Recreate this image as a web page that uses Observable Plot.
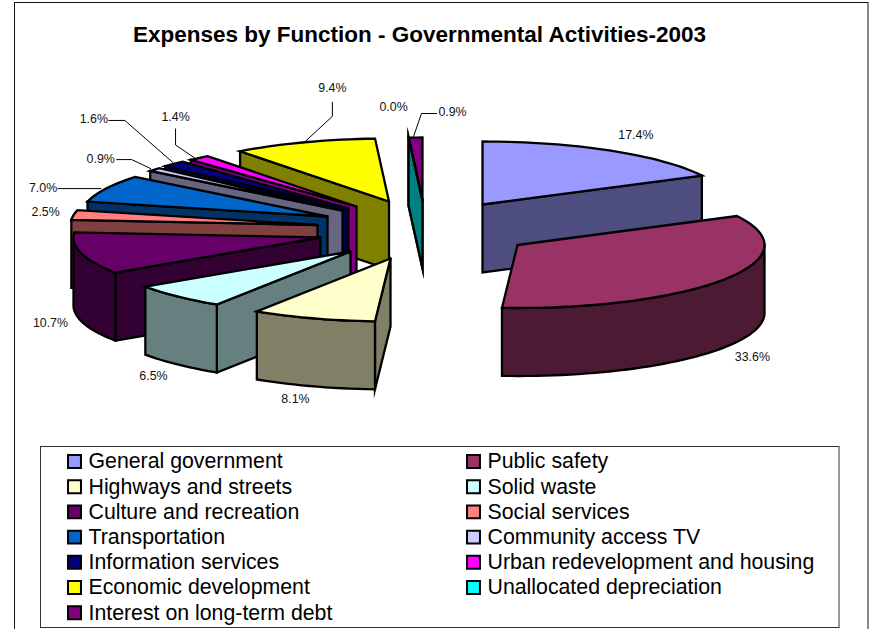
<!DOCTYPE html>
<html>
<head>
<meta charset="utf-8">
<style>html,body{margin:0;padding:0;background:#fff}svg{display:block}</style>
<script src="https://cdn.jsdelivr.net/npm/d3@7"></script>
<script src="https://cdn.jsdelivr.net/npm/@observablehq/plot@0.6"></script>
</head>
<body>
<div id="chart"></div>
<script>
// ---- data
const title = "Expenses by Function - Governmental Activities-2003";
const categories = ["General government","Public safety","Highways and streets","Solid waste","Culture and recreation","Social services","Transportation","Community access TV","Information services","Urban redevelopment and housing","Economic development","Unallocated depreciation","Interest on long-term debt"];
const shares = [17.4,33.6,8.1,6.5,10.7,2.5,7.0,0.9,1.6,1.4,9.4,0.0,0.9];

// ---- styles
const topColors  = ["#9999FF","#993366","#FFFFCC","#CCFFFF","#660066","#FF8080","#0066CC","#CCCCFF","#000080","#FF00FF","#FFFF00","#00FFFF","#800080"];
const wallColors = ["#4D4D80","#4D1A33","#808066","#668080","#330033","#804040","#003366","#666680","#000040","#800080","#808000","#008080","#400040"];

// ---- 3D pie layout: semi-axes, extrusion, where each exploded slice's tip sits
const rx = 247, ry = 63, depth = 68;
const tipX = [482,517,390,350,320,317,327,342,348,356,388.5,422,422];
const tipY = [204,244.5,258,251,237,224.5,216,210,208,206,201,200,200];
const paintOrder = [0,12,11,10,9,8,7,6,5,4,3,2,1];
// label offset from each slice's mid-rim point, and leader lines in the same terms
const labelDX = [25,28,-18,-24,-31,-28,-63,-54,-80,-23.5,28.5,-15,37];
const labelDY = [-16,77.6,81,80,70,-2.5,-1,-11,-44.5,-41,-54,-31,-25];
const leaders = {
  6: [[-48,0],[-5,0]],
  7: [[-38,-10],[-23,-10],[-4,-1]],
  8: [[-65,-43.5],[-49,-43.5],[-1,-1.5]],
  9: [[-23.5,-29],[-23.5,-13],[-3,1]],
  10:[[28.5,-40],[28.5,-26],[1.5,-1]],
  12:[[21,-24],[6,-24],[-2,-1]]
};

const font = "Liberation Sans, Arial, sans-serif";
const rad = d => d * Math.PI / 180;
const rim = (i, a) => [tipX[i] + rx * Math.sin(rad(a)), tipY[i] - ry * Math.cos(rad(a))];

// angles from the values
let run = 0;
const from = [], to = [];
for (const s of shares) { from.push(run * 3.6); run += s; to.push(run * 3.6); }

// polygons
const polys = [];
let pid = 0;
function addPoly(points, fill) {
  const id = pid++;
  const pts = points.concat([points[0]]);
  for (const p of pts) polys.push({id, x: p[0], y: p[1], fill});
}
function arcPoints(i, a, b) {
  const n = Math.max(2, Math.ceil(Math.abs(b - a) / 2));
  return d3.range(n + 1).map(k => rim(i, a + (b - a) * k / n));
}
for (const i of paintOrder) {
  const a = from[i], b = to[i];
  const T = [tipX[i], tipY[i]];
  const down = p => [p[0], p[1] + depth];
  // radial walls that face the viewer
  if (b > 0 && b < 180) { const R = rim(i, b); addPoly([T, R, down(R), down(T)], wallColors[i]); }
  if (a > 180 && a < 360) { const R = rim(i, a); addPoly([T, R, down(R), down(T)], wallColors[i]); }
  // outer curved wall on the front half
  const lo = Math.max(a, 90), hi = Math.min(b, 270);
  if (hi > lo) {
    const arc = arcPoints(i, lo, hi);
    addPoly(arc.concat(arc.map(down).reverse()), wallColors[i]);
  }
  // top face
  addPoly([T].concat(arcPoints(i, a, b)), topColors[i]);
}

// value labels and leaders
const labels = shares.map((s, i) => {
  const m = rim(i, (from[i] + to[i]) / 2);
  return {x: m[0] + labelDX[i], y: m[1] + labelDY[i], text: s.toFixed(1) + "%"};
});
const leaderPts = [];
for (const k of Object.keys(leaders)) {
  const i = +k, m = rim(i, (from[i] + to[i]) / 2);
  for (const o of leaders[k]) leaderPts.push({id: i, x: m[0] + o[0], y: m[1] + o[1]});
}

// legend
const legendRows = 25.2, legendTop = 461, colX = [74, 473], textGap = 14;
const legend = categories.map((c, i) => ({
  name: c,
  x: colX[i % 2],
  y: legendTop + legendRows * Math.floor(i / 2),
  fill: topColors[i]
}));

const frames = [
  {x1: 14.5, x2: 868, y1: 2.5, y2: 640, stroke: "#111"},
  {x1: 40.5, x2: 839, y1: 446.5, y2: 627.5, stroke: "#333"}
];

const chart = Plot.plot({
  width: 872, height: 629, margin: 0,
  x: {domain: [0, 872], range: [0, 872], axis: null},
  y: {domain: [0, 629], range: [0, 629], axis: null},
  style: {background: "#fff", fontFamily: font},
  marks: [
    Plot.rect(frames, {x1: "x1", x2: "x2", y1: "y1", y2: "y2", fill: "#fff", stroke: "stroke", strokeWidth: 1}),
    Plot.text([title], {x: () => 419, y: () => 34, text: d => d, fontSize: 22.5, fontWeight: "bold", fontFamily: font, fill: "#000"}),
    Plot.line(polys, {x: "x", y: "y", z: "id", fill: "fill", stroke: "#000", strokeWidth: 2.3, strokeLinejoin: "miter", strokeMiterlimit: 10, curve: "linear"}),
    Plot.line(leaderPts, {x: "x", y: "y", z: "id", stroke: "#000", strokeWidth: 1, curve: "linear"}),
    Plot.text(labels, {x: "x", y: "y", text: "text", fontSize: 12.4, fontFamily: font, fill: "#111"}),
    Plot.dot(legend, {x: "x", y: "y", symbol: "square", r: 7.3, fill: "fill", stroke: "#000", strokeWidth: 2}),
    Plot.text(legend, {x: d => d.x + textGap, y: "y", text: "name", textAnchor: "start", fontSize: 21.3, fontFamily: font, fill: "#000"})
  ]
});
document.getElementById("chart").appendChild(chart);
</script>
</body>
</html>
